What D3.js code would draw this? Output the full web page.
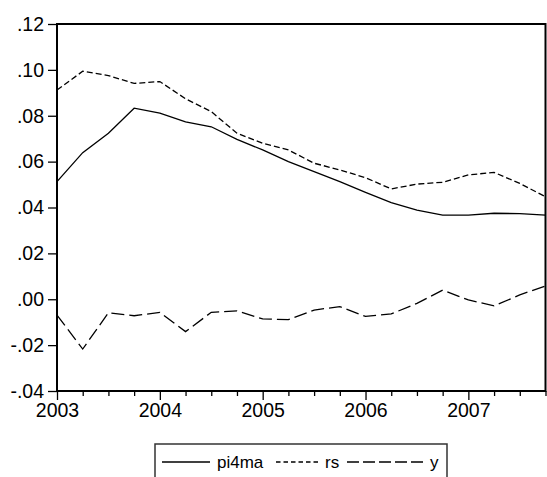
<!DOCTYPE html>
<html>
<head>
<meta charset="utf-8">
<script src="https://cdn.jsdelivr.net/npm/d3@7"></script>
<style>
html, body { margin: 0; padding: 0; background: #fff; }
svg { display: block; }
text { font-family: "Liberation Sans", Arial, sans-serif; fill: #000; }
</style>
</head>
<body>
<svg id="chart" width="547" height="477"></svg>
<script>
// Quarterly periods 2003Q1 .. 2007Q4
const periods = ["2003Q1","2003Q2","2003Q3","2003Q4","2004Q1","2004Q2","2004Q3","2004Q4",
                 "2005Q1","2005Q2","2005Q3","2005Q4","2006Q1","2006Q2","2006Q3","2006Q4",
                 "2007Q1","2007Q2","2007Q3","2007Q4"];
const pi4ma = [0.0513,0.0639,0.0724,0.0833,0.0811,0.0773,0.0752,0.0697,
               0.0651,0.0600,0.0556,0.0513,0.0466,0.0421,0.0389,0.0367,
               0.0367,0.0375,0.0373,0.0367];
const rs    = [0.0912,0.0994,0.0975,0.0941,0.0949,0.0874,0.0818,0.0724,
               0.0680,0.0651,0.0593,0.0564,0.0530,0.0481,0.0502,0.0510,
               0.0542,0.0553,0.0505,0.0447];
const yvals = [-0.0069,-0.0217,-0.0059,-0.0072,-0.0057,-0.0141,-0.0057,-0.0051,
               -0.0086,-0.0089,-0.0047,-0.0032,-0.0075,-0.0064,-0.0018,0.0040,
               -0.0003,-0.0029,0.0019,0.0058];
const yTicks = [-0.04,-0.02,0.00,0.02,0.04,0.06,0.08,0.10,0.12];
const yearLabels = ["2003","2004","2005","2006","2007"];
const seriesNames = ["pi4ma","rs","y"];

const svg = d3.select("#chart");
const L = 57, R = 545.5, T = 24, B = 391;

const x = d3.scaleLinear().domain([0, periods.length - 1]).range([L, R]);
const y = d3.scaleLinear().domain([-0.04, 0.12]).range([B, T]);

const fmt = v => {
  const s = Math.abs(v).toFixed(2).replace(/^0/, "");
  return (v < -1e-9 ? "-" : "") + s;
};

// Y axis
const yAxis = d3.axisLeft(y).tickValues(yTicks).tickFormat(fmt).tickSize(9).tickPadding(4);
const gy = svg.append("g").attr("transform", `translate(${L},0)`).call(yAxis);
gy.select(".domain").remove();
gy.selectAll(".tick line").attr("stroke", "#000").attr("stroke-width", 1.3);
gy.selectAll(".tick text").attr("font-size", 19.5).attr("font-family", "Liberation Sans, Arial, sans-serif");

// X axis: minor quarterly ticks and major yearly ticks
const minorIdx = d3.range(periods.length).filter(i => i % 4 !== 0);
const majorIdx = d3.range(periods.length).filter(i => i % 4 === 0);
const gxMinor = svg.append("g").attr("transform", `translate(0,${B})`)
  .call(d3.axisBottom(x).tickValues(minorIdx).tickFormat("").tickSize(5));
gxMinor.select(".domain").remove();
gxMinor.selectAll(".tick line").attr("stroke", "#000").attr("stroke-width", 1.3);

const gxMajor = svg.append("g").attr("transform", `translate(0,${B})`)
  .call(d3.axisBottom(x).tickValues(majorIdx).tickFormat(i => yearLabels[i / 4]).tickSize(9).tickPadding(3));
gxMajor.select(".domain").remove();
gxMajor.selectAll(".tick line").attr("stroke", "#000").attr("stroke-width", 1.3);
gxMajor.selectAll(".tick text").attr("font-size", 19.5).attr("font-family", "Liberation Sans, Arial, sans-serif");

// Lines
const line = d3.line().x((d, i) => x(i)).y(d => y(d));
const plot = svg.append("g");
const styles = [
  { data: pi4ma, dash: null },
  { data: rs, dash: "6,3" },
  { data: yvals, dash: "13,5" }
];
styles.forEach(s => {
  plot.append("path").datum(s.data)
    .attr("d", line)
    .attr("fill", "none")
    .attr("stroke", "#000")
    .attr("stroke-width", 1.3)
    .attr("stroke-dasharray", s.dash);
});

// Frame
svg.append("rect").attr("x", L).attr("y", T).attr("width", R - L).attr("height", B - T)
  .attr("fill", "none").attr("stroke", "#000").attr("stroke-width", 2);

// Legend
const lg = svg.append("g");
lg.append("path").attr("d", "M155,477 V444 H447 V477")
  .attr("fill", "none").attr("stroke", "#333").attr("stroke-width", 1.5);
const legendItems = [
  { name: seriesNames[0], x1: 162, x2: 210, tx: 217, dash: null },
  { name: seriesNames[1], x1: 276, x2: 320, tx: 325, dash: "4.5,3" },
  { name: seriesNames[2], x1: 347, x2: 426, tx: 430, dash: "12,4" }
];
legendItems.forEach(it => {
  lg.append("line").attr("x1", it.x1).attr("x2", it.x2).attr("y1", 462).attr("y2", 462)
    .attr("stroke", "#000").attr("stroke-width", 1.3).attr("stroke-dasharray", it.dash);
  lg.append("text").attr("x", it.tx).attr("y", 468).attr("font-size", 17)
    .text(it.name);
});
</script>
</body>
</html>
